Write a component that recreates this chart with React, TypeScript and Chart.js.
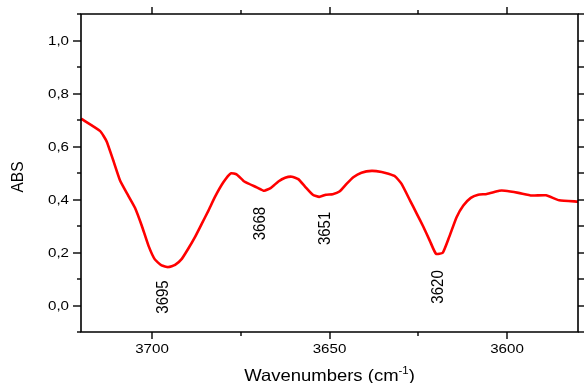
import React, { useEffect, useRef } from "react";
import { Chart, registerables } from "chart.js";

Chart.register(...registerables);

const wavenumbers = [
  3720, 3714.6, 3712.8, 3710.9, 3709.0, 3706.7, 3704.8, 3702.9, 3701.0, 3699.2,
  3697.3, 3695.4, 3693.5, 3691.6, 3689.8, 3687.9, 3686.0, 3684.1, 3682.3, 3679.9,
  3677.8, 3676.1, 3674.0, 3670.5, 3668.4, 3666.5, 3664.4, 3662.5, 3660.6, 3658.8,
  3656.9, 3654.7, 3652.9, 3651.0, 3649.1, 3647.2, 3645.2, 3643.3, 3641.0, 3638.1,
  3635.3, 3633.4, 3631.5, 3629.7, 3627.3, 3625.4, 3623.6, 3621.7, 3620.0, 3618.1,
  3616.3, 3614.2, 3612.3, 3610.2, 3608.1, 3605.7, 3602.2, 3600.6, 3596.8, 3593.0,
  3589.0, 3585.3, 3580.0,
];
const absorbance = [
  0.705, 0.658, 0.62, 0.547, 0.472, 0.415, 0.369, 0.302, 0.226, 0.174,
  0.151, 0.145, 0.153, 0.176, 0.214, 0.258, 0.308, 0.358, 0.409, 0.465,
  0.499, 0.494, 0.468, 0.446, 0.433, 0.444, 0.468, 0.482, 0.486, 0.477,
  0.449, 0.418, 0.41, 0.418, 0.42, 0.43, 0.459, 0.484, 0.501, 0.508,
  0.504, 0.497, 0.487, 0.459, 0.396, 0.346, 0.298, 0.243, 0.195, 0.199,
  0.258, 0.333, 0.377, 0.406, 0.418, 0.421, 0.433, 0.433, 0.425, 0.415,
  0.416, 0.397, 0.392,
];

const xMajorTicks = [3700, 3650, 3600];
const xMinorTicks = [3675, 3625];
const yMajorTicks = [0, 0.2, 0.4, 0.6, 0.8, 1.0];
const yMinorTicks = [-0.1, 0.1, 0.3, 0.5, 0.7, 0.9, 1.1];

const peakLabels = ["3695", "3668", "3651", "3620"];
const peakLabelX = [3696.8, 3669.6, 3651.3, 3619.4];
const peakLabelY = [0.032, 0.309, 0.291, 0.07];

const FONT = '"Liberation Sans", Arial, sans-serif';
const SX = 1.12;

const drawPlugin = {
  id: "originFrame",
  afterDatasetsDraw(chart: any) {
    const { ctx, chartArea: a } = chart;
    const x = chart.scales.x;
    const y = chart.scales.y;
    ctx.save();
    ctx.strokeStyle = "#000";
    ctx.lineWidth = 1.6;
    ctx.beginPath();
    ctx.rect(a.left, a.top, a.right - a.left, a.bottom - a.top);
    ctx.stroke();
    const seg = (x1: number, y1: number, x2: number, y2: number) => {
      ctx.beginPath();
      ctx.moveTo(x1, y1);
      ctx.lineTo(x2, y2);
      ctx.stroke();
    };
    ctx.lineWidth = 1.4;
    xMajorTicks.forEach((v) => {
      const px = Math.round(x.getPixelForValue(v));
      seg(px, a.bottom, px, a.bottom + 7);
      seg(px, a.top, px, a.top - 7);
    });
    xMinorTicks.forEach((v) => {
      const px = Math.round(x.getPixelForValue(v));
      seg(px, a.bottom, px, a.bottom + 4);
      seg(px, a.top, px, a.top - 4);
    });
    yMajorTicks.forEach((v) => {
      const py = Math.round(y.getPixelForValue(v));
      seg(a.left, py, a.left - 8, py);
      seg(a.right, py, a.right + 6, py);
    });
    yMinorTicks.forEach((v) => {
      const py = Math.round(y.getPixelForValue(v));
      seg(a.left, py, a.left - 4, py);
      seg(a.right, py, a.right + 6, py);
    });

    ctx.fillStyle = "#000";
    const hText = (t: string, cx: number, cy: number, size: number, align: string) => {
      ctx.save();
      ctx.translate(cx, cy);
      ctx.scale(SX, 1);
      ctx.font = `${size}px ${FONT}`;
      ctx.textAlign = align;
      ctx.textBaseline = "middle";
      ctx.fillText(t, 0, 0);
      ctx.restore();
    };
    const vText = (t: string, cx: number, cy: number, size: number) => {
      ctx.save();
      ctx.translate(cx, cy);
      ctx.scale(SX, 1);
      ctx.rotate(-Math.PI / 2);
      ctx.font = `${size}px ${FONT}`;
      ctx.textAlign = "center";
      ctx.textBaseline = "middle";
      ctx.fillText(t, 0, 0);
      ctx.restore();
    };

    xMajorTicks.forEach((v) => {
      hText(String(v), x.getPixelForValue(v), a.bottom + 17, 13.5, "center");
    });
    yMajorTicks.forEach((v) => {
      hText(v.toFixed(1).replace(".", ","), a.left - 12, y.getPixelForValue(v) + 0.5, 13.5, "right");
    });

    vText("ABS", 18, (a.top + a.bottom) / 2 + 4, 15.5);
    {
      const size = 16.5;
      const main = "Wavenumbers (cm";
      const sup = "-1";
      const close = ")";
      ctx.save();
      ctx.font = `${size}px ${FONT}`;
      const wMain = ctx.measureText(main).width;
      const wClose = ctx.measureText(close).width;
      ctx.font = `${size * 0.62}px ${FONT}`;
      const wSup = ctx.measureText(sup).width;
      const total = (wMain + wSup + wClose) * SX;
      const cx = (a.left + a.right) / 2;
      const sx = cx - total / 2;
      const base = 381;
      ctx.textBaseline = "alphabetic";
      ctx.textAlign = "left";
      ctx.translate(sx, base);
      ctx.scale(SX, 1);
      ctx.font = `${size}px ${FONT}`;
      ctx.fillText(main, 0, 0);
      ctx.font = `${size * 0.62}px ${FONT}`;
      ctx.fillText(sup, wMain, -7);
      ctx.font = `${size}px ${FONT}`;
      ctx.fillText(close, wMain + wSup, 0);
      ctx.restore();
    }

    peakLabels.forEach((t, i) => {
      vText(t, x.getPixelForValue(peakLabelX[i]), y.getPixelForValue(peakLabelY[i]), 15);
    });
    ctx.restore();
  },
};

export default function App() {
  const ref = useRef<HTMLCanvasElement | null>(null);
  useEffect(() => {
    if (!ref.current) return;
    const chart = new Chart(ref.current, {
      type: "line",
      data: {
        datasets: [
          {
            data: wavenumbers.map((w, i) => ({ x: w, y: absorbance[i] })),
            borderColor: "#ff0000",
            borderWidth: 2.6,
            pointRadius: 0,
            tension: 0.15,
            fill: false,
          },
        ],
      },
      options: {
        animation: false,
        responsive: false,
        devicePixelRatio: 1,
        layout: { padding: { left: 81, right: 6, top: 14, bottom: 51 } },
        plugins: { legend: { display: false }, tooltip: { enabled: false } },
        scales: {
          x: { type: "linear", display: false, min: 3580, max: 3720, reverse: true },
          y: { type: "linear", display: false, min: -0.1, max: 1.1 },
        },
      },
      plugins: [drawPlugin],
    } as any);
    return () => chart.destroy();
  }, []);
  return (
    <div style={{ position: "absolute", left: 0, top: 0, width: 584, height: 383, background: "#fff" }}>
      <canvas ref={ref} width={584} height={383} style={{ display: "block" }} />
    </div>
  );
}
